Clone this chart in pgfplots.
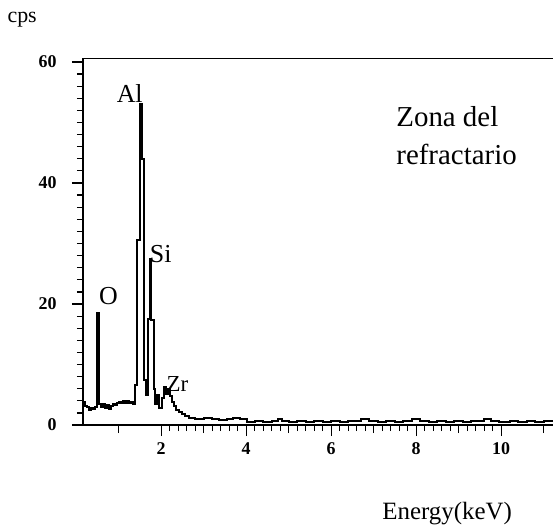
\documentclass[border=0pt]{standalone}
\usepackage{pgfplots}
\pgfplotsset{compat=1.18}
\usepackage{fontspec}
\setmainfont{Liberation Serif}

% EDS spectrum, step trace
\pgfplotstableread{
E     C
0.16  3.8
0.21  3.2
0.26  3.0
0.31  2.5
0.35  2.8
0.40  2.6
0.45  3.0
0.48  18.5
0.54  3.4
0.59  3.0
0.64  3.5
0.68  2.8
0.73  3.3
0.78  2.7
0.82  3.2
0.87  3.5
0.92  3.3
0.96  3.6
1.01  3.8
1.06  3.6
1.11  3.9
1.15  3.7
1.20  3.9
1.25  3.6
1.29  3.8
1.34  3.5
1.39  6.6
1.44  30.5
1.50  53.0
1.54  44.0
1.60  7.5
1.64  5.0
1.68  17.5
1.73  27.5
1.77  17.3
1.82  6.0
1.86  3.5
1.91  5.0
1.96  2.8
2.01  4.5
2.06  6.3
2.11  5.2
2.15  6.0
2.20  4.8
2.25  3.8
2.29  3.2
2.35  2.5
2.42  2.2
2.49  1.8
2.56  1.5
2.66  1.2
2.80  1.0
3.00  1.1
3.20  1.0
3.35  0.9
3.55  1.0
3.70  1.2
3.85  1.0
4.02  0.5
4.20  0.6
4.40  0.5
4.60  0.7
4.75  1.0
4.85  0.6
5.00  0.5
5.20  0.7
5.40  0.5
5.60  0.6
5.80  0.5
6.00  0.7
6.20  0.5
6.40  0.6
6.70  1.0
6.90  0.6
7.10  0.5
7.30  0.7
7.50  0.5
7.70  0.6
7.90  1.0
8.10  0.6
8.30  0.5
8.50  0.7
8.70  0.5
8.90  0.6
9.10  0.5
9.30  0.7
9.60  1.0
9.75  0.6
9.95  0.5
10.20 0.6
10.40 0.5
10.60 0.7
10.80 0.5
11.00 0.6
11.30 0.6
}\spectrum

\begin{document}
\begin{tikzpicture}
\path[use as bounding box] (-83bp,-106bp) rectangle (470bp,425bp);
\begin{axis}[
    at={(0,0)}, anchor=south west,
    scale only axis,
    x=42.5bp, y=6.05bp,
    xmin=0.16, xmax=11.3,
    ymin=0, ymax=60.6,
    axis line style={line width=1.4bp},
    tick align=outside, tick pos=left,
    xtick={2,4,...,10}, ytick={0,20,40,60},
    minor x tick num=9, minor y tick num=9,
    major tick length=11bp, minor tick length=6bp,
    every tick/.style={black, line width=1.2bp},
    extra x ticks={1,3,5,7,9,11}, extra x tick labels={},
    extra x tick style={major tick length=8bp},
    /pgf/number format/assume math mode=true,
    ticklabel style={font=\bfseries\fontsize{18}{18}\selectfont},
    yticklabel style={xshift=-12bp},
    xticklabel style={yshift=-3bp},
    clip=false,
]
\addplot[const plot, black, line width=2bp] table[x=E, y=C] {\spectrum};

\node[font=\fontsize{26}{26}\selectfont] at (axis cs:1.26,54.8) {Al};
\node[font=\fontsize{26}{26}\selectfont] at (axis cs:1.99,28.3) {Si};
\node[font=\fontsize{26}{26}\selectfont] at (axis cs:0.76,21.3) {O};
\node[font=\fontsize{23}{23}\selectfont] at (axis cs:2.38,6.8) {Zr};

\node[anchor=base west, inner sep=0pt, font=\fontsize{29}{29}\selectfont] at (axis cs:7.53,49.3) {Zona del};
\node[anchor=base west, inner sep=0pt, font=\fontsize{29}{29}\selectfont] at (axis cs:7.53,43.0) {refractario};

\node[anchor=base west, inner sep=0pt, font=\fontsize{22}{22}\selectfont] at (axis cs:-1.62,66.6) {cps};
\node[anchor=base west, inner sep=0pt, font=\fontsize{25}{25}\selectfont] at (axis cs:7.2,-15.7) {Energy(keV)};
\end{axis}
\end{tikzpicture}
\end{document}
